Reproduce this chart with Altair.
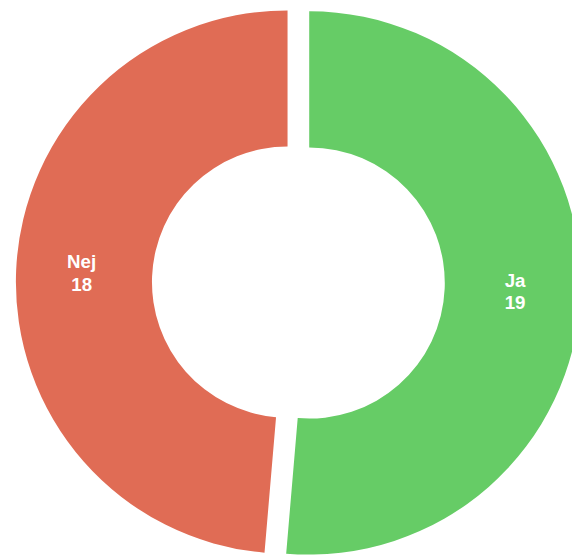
import math
import altair as alt
import pandas as pd

categories = ["Ja", "Nej"]
values = [19, 18]
colors = ["#66cc66", "#e06c55"]

total = sum(values)
explode = 11
outer_r = 275.5
inner_r = 137.5
label_r = 209
cx, cy = 294.5, 274.5

layers = []
cum = 0
for cat, val, col in zip(categories, values, colors):
    start = cum / total
    end = (cum + val) / total
    cum += val
    mid = (start + end) / 2 * 2 * math.pi
    dx = explode * math.sin(mid)
    dy = -explode * math.cos(mid)
    df = pd.DataFrame({
        "category": [cat],
        "value": [val],
        "start": [start],
        "end": [end],
        "mid": [(start + end) / 2],
        "label": [[cat, str(val)]],
    })
    base = alt.Chart(df)
    arc = base.mark_arc(
        outerRadius=outer_r, innerRadius=inner_r, xOffset=dx, yOffset=dy,
        color=col,
    ).encode(
        theta=alt.Theta("start:Q", scale=alt.Scale(domain=[0, 1])),
        theta2="end:Q",
        x=alt.value(cx), y=alt.value(cy),
    )
    text = base.mark_text(
        xOffset=dx, yOffset=dy, dy=-11, color="white", font="Liberation Sans",
        fontWeight="bold", fontSize=19, lineHeight=23, align="center",
        baseline="middle", radius=label_r,
    ).encode(
        theta=alt.Theta("mid:Q", scale=alt.Scale(domain=[0, 1])),
        text="label",
        x=alt.value(cx), y=alt.value(cy),
    )
    layers += [arc, text]

chart = alt.layer(*layers).properties(
    width=572, height=551,
    padding=0,
    autosize=alt.AutoSizeParams(type="none"),
).configure_view(stroke=None)

chart.save("out.html", embed_options={"renderer": "svg", "actions": False})
